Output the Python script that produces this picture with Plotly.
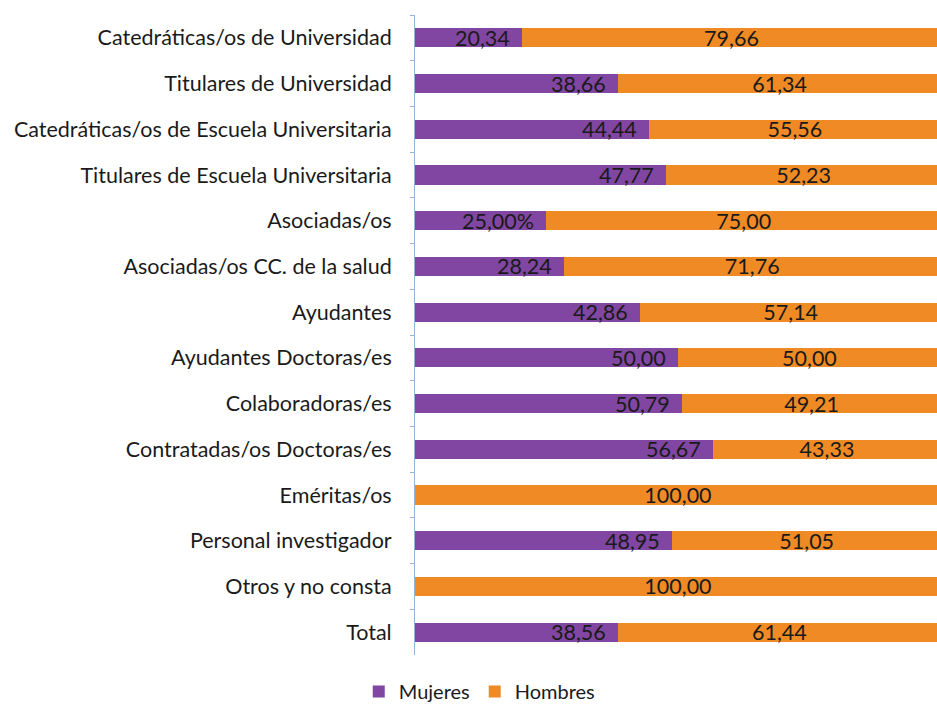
import plotly.graph_objects as go

categorias = [
    "Catedráticas/os de Universidad",
    "Titulares de Universidad",
    "Catedráticas/os de Escuela Universitaria",
    "Titulares de Escuela Universitaria",
    "Asociadas/os",
    "Asociadas/os CC. de la salud",
    "Ayudantes",
    "Ayudantes Doctoras/es",
    "Colaboradoras/es",
    "Contratadas/os Doctoras/es",
    "Eméritas/os",
    "Personal investigador",
    "Otros y no consta",
    "Total",
]
mujeres = [20.34, 38.66, 44.44, 47.77, 25.00, 28.24, 42.86, 50.00, 50.79, 56.67, 0, 48.95, 0, 38.56]
hombres = [79.66, 61.34, 55.56, 52.23, 75.00, 71.76, 57.14, 50.00, 49.21, 43.33, 100.00, 51.05, 100.00, 61.44]
etiquetas_mujeres = ["20,34", "38,66", "44,44", "47,77", "25,00%", "28,24", "42,86", "50,00",
                     "50,79", "56,67", "", "48,95", "", "38,56"]
etiquetas_hombres = ["79,66", "61,34", "55,56", "52,23", "75,00", "71,76", "57,14", "50,00",
                     "49,21", "43,33", "100,00", "51,05", "100,00", "61,44"]

FONT = "Lato"
PURPLE = "#8046A1"
ORANGE = "#EF8A25"
TXT = "#1a1a1a"
FS = 21.5

fig = go.Figure()
fig.add_trace(go.Bar(
    y=categorias, x=mujeres, orientation="h", name="Mujeres",
    marker=dict(color=PURPLE, line=dict(width=0)),
    hoverinfo="skip",
))
fig.add_trace(go.Bar(
    y=categorias, x=hombres, orientation="h", name="Hombres",
    marker=dict(color=ORANGE, line=dict(width=0)),
    text=etiquetas_hombres, textposition="inside", insidetextanchor="middle",
    constraintext="none", textangle=0,
    textfont=dict(family=FONT, size=FS, color=TXT),
    hoverinfo="skip",
))

for c, m, t in zip(categorias, mujeres, etiquetas_mujeres):
    if t:
        fig.add_annotation(x=m, y=c, text=t, showarrow=False, xanchor="right",
                           xshift=-10, font=dict(family=FONT, size=FS, color=TXT))

fig.update_layout(
    barmode="stack",
    bargap=0.58,
    width=937, height=711,
    margin=dict(l=415, r=0, t=15, b=56, autoexpand=False),
    paper_bgcolor="white", plot_bgcolor="white",
    font=dict(family=FONT, size=FS, color=TXT),
    showlegend=True,
    legend=dict(orientation="h", xref="container", yref="container",
                x=0.512, y=0.0, xanchor="center", yanchor="bottom",
                traceorder="normal",
                font=dict(family=FONT, size=20, color=TXT),
                itemwidth=30, tracegroupgap=0),
    xaxis=dict(range=[0, 99.25], showgrid=False, showline=False, zeroline=False,
               showticklabels=False, ticks="", automargin=False),
    yaxis=dict(categoryorder="array", categoryarray=categorias, autorange="reversed",
               showline=True, linecolor="#95B3D7", linewidth=1, automargin=False,
               ticks="outside", ticklen=4, tickcolor="#95B3D7", tickson="boundaries",
               ticklabelstandoff=18, showgrid=False,
               tickfont=dict(family=FONT, size=FS, color=TXT)),
)

fig.write_html("out.html", config={"displayModeBar": False},
               post_script="document.body.style.margin='0';document.body.style.overflow='hidden';")
